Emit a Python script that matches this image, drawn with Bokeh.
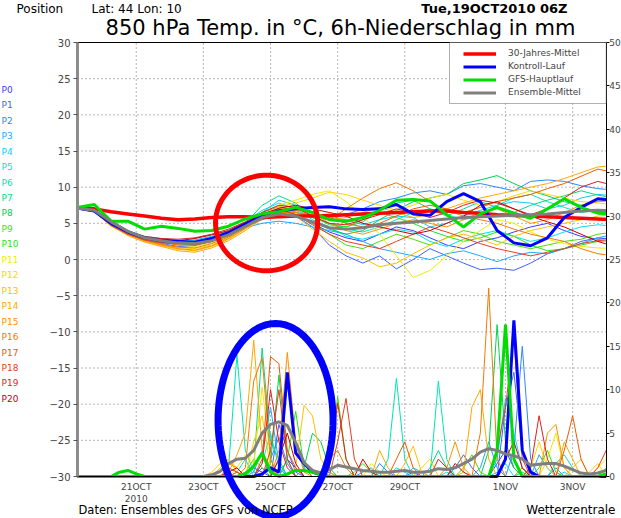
import math
from bokeh.plotting import figure
from bokeh.models import (Range1d, LinearAxis, FixedTicker, Label, Legend,
                          LegendItem, PolyAnnotation, BoxAnnotation)
from bokeh.embed import file_html
from bokeh.resources import INLINE

# ---------------- data ----------------
# forecast hours since 19OCT2010 06Z
hours_12h = list(range(0, 385, 12))   # temperature steps
hours_6h = list(range(0, 385, 6))     # precipitation steps

tick_hours = [42, 90, 138, 186, 234, 306, 354]
tick_labels = ["21OCT\n2010", "23OCT", "25OCT", "27OCT", "29OCT", "1NOV", "3NOV"]
temp_ticks = [-30, -25, -20, -15, -10, -5, 0, 5, 10, 15, 20, 25, 30]
prec_ticks = [0, 5, 10, 15, 20, 25, 30, 35, 40, 45, 50]

member_names = ["P%d" % k for k in range(21)]

# 850 hPa temperature (deg C), 12-hourly
temp_clim = [7.2,7.0,6.6,6.3,6.0,5.7,5.5,5.6,5.8,5.9,5.9,5.8,5.9,6.0,6.0,6.1,6.2,6.3,6.4,6.5,6.6,6.7,6.7,6.5,6.4,6.2,6.1,6.0,5.9,5.8,5.7,5.6,5.5]
temp_ctrl = [7.1,6.7,5.0,3.8,3.0,2.6,2.5,2.4,2.9,3.7,4.9,6.0,6.7,7.0,7.2,7.3,7.0,6.9,7.0,7.6,6.3,6.1,8.0,9.1,8.0,4.0,2.3,1.9,3.0,5.8,7.2,8.4,8.2]
temp_oper = [7.2,7.6,5.3,5.3,4.2,4.6,4.3,3.9,4.0,4.6,5.6,6.3,6.6,7.2,6.5,5.5,5.3,5.8,6.8,8.2,8.3,8.1,6.2,4.5,6.3,7.2,6.4,5.7,7.0,8.4,7.2,6.4,6.3]
temp_mean = [7.1,6.8,5.2,3.9,3.0,2.6,2.3,2.2,2.6,3.4,4.6,5.8,6.3,6.0,5.2,4.4,4.2,4.4,4.8,5.0,5.2,5.4,5.6,5.8,5.9,6.0,6.1,6.2,6.3,6.5,6.7,6.8,6.7]

temp_p0 = [7.1,6.8,5.0,3.6,2.8,2.4,2.2,2.0,2.6,3.5,4.8,6.0,6.5,6.2,5.0,3.8,3.0,2.5,3.5,4.5,4.0,3.0,2.0,1.5,2.5,3.0,3.8,4.5,5.0,4.0,3.2,2.8,3.0]
temp_p1 = [7.0,6.7,4.8,3.7,2.9,2.2,1.8,1.9,2.5,3.3,4.5,5.5,6.2,6.0,4.5,2.0,0.5,-0.5,0.5,-1.3,0.0,1.5,0.5,-0.5,-1.4,-1.2,-1.5,-0.5,0.8,1.5,2.5,3.0,2.8]
temp_p2 = [7.2,6.9,5.2,3.9,3.1,2.7,2.4,2.5,3.0,3.8,5.0,6.5,7.3,6.8,6.0,5.5,6.2,7.0,8.0,8.5,9.2,9.5,9.0,10.2,10.5,10.0,9.5,10.8,11.0,10.8,10.2,9.8,9.6]
temp_p3 = [7.1,6.8,5.1,3.8,3.0,2.8,2.6,2.7,3.2,3.9,4.4,5.0,5.3,5.0,4.5,4.0,3.5,2.5,1.5,1.0,0.5,0.0,0.8,1.2,0.5,-0.3,0.5,1.0,0.8,1.5,2.2,3.0,3.5]
temp_p4 = [7.0,6.6,4.7,3.5,2.6,2.3,2.1,2.3,2.8,3.5,4.8,6.5,8.2,7.5,6.5,5.8,5.5,4.8,5.5,6.0,5.8,4.5,5.0,6.0,6.8,7.5,8.0,7.8,7.0,7.5,8.5,9.0,8.8]
temp_p5 = [7.2,6.9,5.3,4.0,3.2,2.9,2.7,2.6,3.1,4.0,5.2,6.8,7.8,7.0,5.5,4.5,3.2,2.8,3.5,4.2,3.8,2.5,1.8,2.8,3.5,4.0,3.2,2.5,3.0,3.8,4.5,4.8,4.6]
temp_p6 = [7.1,6.7,4.9,3.6,2.8,2.5,2.3,2.4,2.9,3.7,4.9,6.3,7.0,6.6,5.8,5.0,4.2,3.8,4.5,5.5,6.5,7.0,6.2,5.5,6.0,7.5,8.5,9.0,8.0,7.2,6.5,6.8,7.0]
temp_p7 = [7.0,6.8,5.0,3.8,3.0,2.6,2.2,2.1,2.7,3.6,5.0,7.5,8.8,7.8,6.0,4.8,4.5,5.2,6.8,7.8,8.2,7.0,6.0,7.0,8.0,7.2,6.5,7.5,8.2,8.8,9.5,8.9,8.5]
temp_p8 = [7.2,6.9,5.4,4.0,3.1,2.7,2.5,2.4,2.8,3.6,4.7,5.8,6.4,6.0,5.2,4.2,3.5,4.0,5.5,6.8,8.0,8.5,9.0,10.5,11.0,11.6,10.5,9.5,8.8,8.0,7.5,8.0,8.2]
temp_p9 = [7.1,6.8,5.1,3.8,3.0,2.6,2.4,2.5,3.0,3.9,5.1,6.2,6.8,6.3,5.0,3.5,2.0,1.5,2.5,3.5,2.8,2.0,3.0,4.0,3.5,2.5,2.0,1.5,2.0,2.5,2.8,3.5,3.8]
temp_p10 = [7.0,6.7,4.8,3.6,2.9,2.5,2.2,2.2,2.7,3.5,4.6,5.9,6.8,6.5,5.8,5.0,4.5,5.5,6.5,5.8,5.0,4.0,3.2,2.5,3.0,3.8,3.2,2.0,1.2,1.5,2.0,2.5,2.6]
temp_p11 = [7.2,6.9,5.2,3.9,3.1,2.5,2.0,1.8,2.3,3.2,4.7,6.5,7.5,8.2,9.0,9.5,8.0,6.0,3.5,0.5,-2.5,-1.5,0.5,2.5,4.0,5.5,5.0,3.8,2.8,2.2,1.8,1.6,1.5]
temp_p12 = [7.1,6.8,5.0,3.7,2.8,2.1,1.6,1.5,2.0,3.0,4.5,6.2,7.3,7.8,8.5,9.3,9.0,8.2,7.5,6.8,7.5,8.5,9.0,8.2,7.5,8.0,8.8,9.5,9.0,8.5,8.0,7.8,7.6]
temp_p13 = [7.0,6.6,4.6,3.4,2.5,1.9,1.4,1.2,1.8,2.8,4.2,5.8,6.7,6.0,4.2,2.5,1.0,0.2,-1.0,-0.5,0.8,2.0,3.0,3.5,2.8,2.0,3.2,4.0,4.5,5.0,5.5,6.0,6.2]
temp_p14 = [7.1,6.7,4.7,3.3,2.4,1.8,1.2,1.0,1.6,2.6,4.0,5.6,6.5,6.8,6.2,5.5,5.8,6.5,7.2,6.5,5.8,6.2,7.0,7.8,8.5,9.0,9.5,10.0,10.5,11.2,12.0,12.8,13.0]
temp_p15 = [7.2,6.8,4.9,3.5,2.6,2.0,1.5,1.3,1.9,2.9,4.3,6.0,7.0,7.2,6.5,5.0,4.0,3.5,4.2,5.0,5.5,5.0,4.5,5.5,6.5,7.0,6.0,5.0,5.5,6.5,7.5,8.0,8.5]
temp_p16 = [7.0,6.7,4.8,3.5,2.7,2.1,1.7,1.6,2.2,3.1,4.4,5.7,6.5,6.5,6.0,5.5,7.0,8.5,9.8,10.6,9.5,8.0,6.8,6.0,5.5,5.0,4.2,3.5,3.0,2.5,1.5,0.8,0.5]
temp_p17 = [7.1,6.8,5.0,3.7,2.9,2.4,2.0,2.0,2.5,3.4,4.7,6.0,6.8,6.9,6.5,5.8,5.0,4.5,5.0,6.0,7.0,7.5,7.0,6.5,7.2,8.0,8.5,9.0,9.8,10.5,11.5,12.5,12.0]
temp_p18 = [7.0,6.6,4.7,3.5,2.7,2.3,2.2,2.4,3.0,3.8,5.0,6.3,7.0,6.2,4.8,3.5,2.5,2.0,1.5,2.5,3.5,4.5,3.8,3.0,2.2,1.5,1.0,0.5,1.0,1.5,2.2,2.6,2.8]
temp_p19 = [7.2,6.9,5.1,3.9,3.2,2.9,2.8,3.0,3.5,4.2,5.2,6.5,7.5,7.2,6.0,5.0,4.8,5.5,6.2,7.0,6.5,5.8,6.5,7.5,8.2,7.8,7.0,6.2,7.0,8.5,10.0,10.8,10.2]
temp_p20 = [7.1,6.8,5.0,3.8,3.1,2.8,2.6,2.9,3.4,4.0,5.1,6.2,7.1,7.5,7.0,6.5,6.0,5.0,4.5,4.0,3.5,4.0,5.0,6.0,7.5,8.0,7.0,6.0,5.2,4.5,3.5,2.5,1.8]

# 6h precipitation (mm), 6-hourly
prec_oper = [0,0,0,0,0, 0.5,0.7,0.3,0,0, 0,0,0,0,0, 0,0,0,0,0, 0.3,1.2,2.7,0.5,0, 0.3,0.7,0.7,0.5,0.2, 0,0,0,0,0, 0,0,0,0,0, 0,0,0,0,0, 0,0,0,0,0, 3,17.5,2,0,0, 0,0,0,0,0, 0,0,0,0.3,0]
prec_ctrl = [0,0,0,0,0, 0,0,0,0,0, 0,0,0,0,0, 0,0,0,0,0, 0,0,0.3,1,0.5, 12,2.7,1.5,0.5,0.2, 0,0,0,0,0, 0,0,0,0,0, 0,0,0,0,0, 0,0,0,0,0, 0,2,18,3,0.5, 0,0,0,0,0, 0,0,0,0,0]
prec_mean = [0,0,0,0,0, 0,0,0,0,0, 0,0,0,0,0, 0,0.2,0.6,1.5,2.0, 2.1,3.0,5.0,6.0,6.3, 5.9,3.9,1.6,0.7,0.4, 0.8,1.3,1.1,0.9,0.7, 0.6,0.5,0.5,0.6,0.7, 0.5,0.5,0.6,0.9,0.8, 1.0,1.5,2.0,2.8,3.2, 3.0,2.6,2.4,2.0,1.3, 1.4,1.5,1.5,1.2,0.8, 0.4,0.3,0.4,0.7,1.0]

prec_p0 = [0,0,0,0,0, 0,0,0,0,0, 0,0,0,0,0, 0,0,0,0,0, 0.5,1,0.5,0,0, 2,1,0,0,0, 0,0,0,0,0, 0,0,0,0,0, 0.5,0,0,0,0, 0,0,0,0,0, 1.5,3,1,0,0, 0,0,0,0,0, 0,0,0,0,0]
prec_p1 = [0,0,0,0,0, 0,0,0,0,0, 0,0,0,0,0, 0,0,0,0,0, 0,0,1,0,6, 3,0.5,0,0,0, 0,0,0,0,0, 0,0,0,0,0, 0,0,0,0,0, 1,2.5,1,0,0, 0,8,12,3,0.5, 0,0,0,0,0, 0,0,0,0,0]
prec_p2 = [0,0,0,0,0, 0,0,0,0,0, 0,0,0,0,0, 0,0,0,0,0, 0,0,0,2,4.5, 1.5,0,0,0,0, 0.5,0,0,0,0, 0,1.5,0.5,0,0, 0,0,0,0,0, 0,0,0,0,0, 0,0,3,15,2, 0,0,1,0,0, 0,0,0,0,0]
prec_p3 = [0,0,0,0,0, 0,0,0,0,0, 0,0,0,0,0, 0,0,0,0,0, 0,0.5,3,8,1.5, 0,0,0,0,0, 0,0,0,0,0.5, 1,0,0,0,0, 0,0,0,0,0, 0,0,0,1,4, 1,0,0,0,0, 2.5,1,0,0,0, 0,0,0,0,0]
prec_p4 = [0,0,0,0,0, 0,0,0,0,0, 0,0,0,0,0, 0,0,0,0,0, 0,0,0,0,2, 10.8,3,1,0,0, 0,0,0,0,0, 0,0,0,0,0, 1,0.5,0,0,0, 0,0,0,0,0, 2,9,5,1,0, 0,0,0,0.5,0, 0,0,0,0,0]
prec_p5 = [0,0,0,0,0, 0,0,0,0,0, 0,0,0,0,0, 0,0,0,0,0.5, 2,0,1.5,5,1, 0,0,0,0,0, 0,0,0,0,0, 0,0,0,1,0.5, 0,0,0,0,0.5, 0,0,0,0,0, 0.5,1.5,0,0,0, 0,0,0,0,0, 0,0,0,1,2]
prec_p6 = [0,0,0,0,0, 0,0,0,0,0, 0,0,0,0,0, 0,0,0,1,14, 3,0.5,0,0,0, 0,0,0,0,0, 0,0,0,0,0, 0,0,2,11.3,2, 0,0,0,11,2, 0,0,0,0,0, 0,0,0,0,0, 0,0,1.5,2.5,1, 0,0,0,0,0]
prec_p7 = [0,0,0,0,0, 0,0,0,0,0, 0,0,0,0,0, 0,0,0,0,0, 0,1,14.8,4,2, 0,0,0,0,0, 0,0,0,0,0, 0,0,0,0,0, 0,0,1,3,1, 0,0,0,0,0, 0,0,0,0.5,0, 0,0,0,0,0, 0,0,0,0,0]
prec_p8 = [0,0,0,0,0, 0,0,0,0,0, 0,0,0,0,0, 0,0,0,0,0, 0,0,0,1.5,11.7, 2,0,1,5,4, 1,0,0,0,0, 0,0,0,0,0, 0,0,0,0,0, 0,0,0,0,3, 17.5,4,1,0,0, 0,0,0,0,0, 0,0,0,0,0]
prec_p9 = [0,0,0,0,0, 0,0,0,0,0, 0,0,0,0,0, 0,0,0,0,0, 0.5,2,1,0,0, 0,0,0,0,0, 1,9.2,2,0,0, 0,0,0,0,0, 0,0,0,0,0, 0,1,2.5,0.5,0, 0,0,0,0,0, 0,0,0,0,0, 0,0,0,0,0]
prec_p10 = [0,0,0,0,0, 0,0,0,0,0, 0,0,0,0,0, 0,0,0,0,0, 0,0,0,0,0, 2,7.5,1,0,0, 0,0,0,0.5,1.5, 0.5,0,0,0,0, 0,0,0,0,0, 0,0,0,0,0, 0,0,0,0,0, 1,3,0.5,0,0, 0,0,0,0,0]
prec_p11 = [0,0,0,0,0, 0,0,0,0,0, 0,0,0,0,0, 0,0,0,0,1, 2.5,1.5,10.3,2,0, 0,0,0,0,0, 0,0,0,0,0, 1.5,0.5,0,0,0, 0,0,0,0,0, 0,0,0,0,0, 0,0,0,0,0, 0,2,5,1,0, 0,0,1,2,17]
prec_p12 = [0,0,0,0,0, 0,0,0,0,0, 0,0,0,0,0, 0,0.5,1.5,2,1, 0,4,7,1,0, 0,0,0,0,0, 0,0,0,0,0, 0,0,0,0,0, 0,1,2,0,0, 0,0,0,0,0, 0,0,0,0,1, 4,1,0,0,0, 0,0.5,1.5,0,0]
prec_p13 = [0,0,0,0,0, 0,0,0,0,0, 0,0,0,0,0, 0,0,1,2,0.5, 0,0,0,0,0, 0,1,8.2,7,2, 0.5,0,0,0,0, 0,0,0,0,1.5, 3.5,0.5,0,0,0, 0,0,0,0,0, 0,0,0,0,0, 0,0,0,0,1, 2,0,0,0,0]
prec_p14 = [0,0,0,0,0, 0,0,0,0,0, 0,0,0,0,0, 0,0,0,0.5,2.5, 5,15.7,3,1,0, 0,0,0,0,0, 0,0,0,0,0, 0,3,1,0,0, 0,0,0,0,0, 0,0.5,8,10,2, 0,0,0,0,0, 0,0,0,4,2, 0,0,0,0,0]
prec_p15 = [0,0,0,0,0, 0,0,0,0,0, 0,0,0,0,0, 0,0,0.5,1.5,1, 0,0,0,0,3, 14.3,4,0.5,0,0, 0,0,0,0,0, 0,0,0,0,0, 0,0,0,0,1, 4,1,0,0,0, 0,0,0,0,0, 0,5,6,1,0, 0,0,0,0,0]
prec_p16 = [0,0,0,0,0, 0,0,0,0,0, 0,0,0,0,0, 0,0,0,0,0, 1,11,13.7,2,0, 0,0,0,0,0, 2,3,1,0,0, 0,0,0,0,0, 0,0,0,0,0, 0,0,0,5,21.7, 2,0,0,1,0, 0,0,0,0,0, 0,0,0,0,0]
prec_p17 = [0,0,0,0,0, 0,0,0,0,0, 0,0,0,0,0, 0,0,0,0,0.5, 0,0,2,13.8,13, 3,1,0,0,0, 0,0,0,0,0, 0,0,0,2,4, 1,0,0,0,0, 0,0,0,0,0, 0,0,0,0,0, 0,0,0,3,7, 2,0,0,0,0]
prec_p18 = [0,0,0,0,0, 0,0,0,0,0, 0,0,0,0,0, 0,0,0,1,0.5, 0,0,0,3,10, 2,0,0,0,0, 0,4,9,2,0, 0,0,0,0,0, 0,0,0,0,0, 0,0,0,0,0, 3,8,16,2,0, 0,0,0,0,0, 0,0,1,3,0]
prec_p19 = [0,0,0,0,0, 0,0,0,0,0, 0,0,0,0,0, 0,0,0,0,0, 0,0,1.5,10,4, 1,0,0,0,0, 1,8.5,2,0,0, 0,0,0,0,0, 0,0,0,2,1, 0,0,0,0,0, 0,0,0,0,1, 7,2,0,0,0, 0,0,0,0,0]
prec_p20 = [0,0,0,0,0, 0,0,0,0,0, 0,0,0,0,0, 0,0,0,0.5,1, 0,0,0,0,2, 5,1.5,0,0,0, 0,0,0,0,2, 0.5,0,0,0,0, 0,0,0,0,0, 1.5,0.5,0,0,0, 0,2,4,1,0, 0,0,0,0,0, 0,0,0,0,0]

# hand-drawn highlight rings: centre hour, centre value (deg C), half-width (h), half-height (deg C)
ring_red = [135.2, 5.05, 36.5, 6.6]
ring_blue = [141.6, -22.2, 41.1, 13.35]

members_temp = [temp_p0, temp_p1, temp_p2, temp_p3, temp_p4, temp_p5, temp_p6, temp_p7,
                temp_p8, temp_p9, temp_p10, temp_p11, temp_p12, temp_p13, temp_p14,
                temp_p15, temp_p16, temp_p17, temp_p18, temp_p19, temp_p20]
members_prec = [prec_p0, prec_p1, prec_p2, prec_p3, prec_p4, prec_p5, prec_p6, prec_p7,
                prec_p8, prec_p9, prec_p10, prec_p11, prec_p12, prec_p13, prec_p14,
                prec_p15, prec_p16, prec_p17, prec_p18, prec_p19, prec_p20]
for s in members_temp + [temp_clim, temp_ctrl, temp_oper, temp_mean]:
    assert len(s) == len(hours_12h), len(s)
for s in members_prec + [prec_oper, prec_ctrl, prec_mean]:
    assert len(s) == len(hours_6h), len(s)

# ---------------- styling / layout ----------------
member_colors = ["#3c3cff", "#3c64ff", "#2e86ff", "#1ea8ff", "#14c8ff", "#00e1f0",
                 "#00e6b4", "#00dc82", "#00d250", "#4ade00", "#1ee61e", "#f0ec00",
                 "#ffd500", "#ffc000", "#ffa800", "#ff9000", "#f57800", "#f05a00",
                 "#e83c1e", "#e01e1e", "#c80000"]
FONT = "DejaVu Sans"
W, H = 621, 518
# plot rectangle inside the canvas (pixels)
PL, PR, PT, PB = 77.0, 605.7, 42.0, 476.0
HX0, HX1 = 0, 378          # hours shown
TY0, TY1 = -30, 30         # temperature axis
RY0, RY1 = 0, 50           # precipitation axis

kx = (PR - PL) / (HX1 - HX0)
ky = (PB - PT) / (TY1 - TY0)
kr = (PB - PT) / (RY1 - RY0)
x_range = Range1d(HX0 - PL / kx, HX1 + (W - PR) / kx)
y_range = Range1d(TY0 - (H - PB) / ky, TY1 + PT / ky)
r_range = Range1d(RY0 - (H - PB) / kr, RY1 + PT / kr)

p = figure(width=W, height=H, x_range=x_range, y_range=y_range,
           output_backend="svg", toolbar_location=None, min_border=0,
           background_fill_color="white", border_fill_color="white",
           outline_line_color=None)
p.extra_y_ranges = {"precip": r_range}
p.xgrid.grid_line_color = None
p.ygrid.grid_line_color = None

def at(px, py):
    return (x_range.start + px / kx, y_range.end - py / ky)

# axes (fixed on the plot rectangle)
xa = p.xaxis[0]
xa.fixed_location = TY0
xa.bounds = (HX0, HX1)
xa.ticker = FixedTicker(ticks=tick_hours)
xa.major_label_overrides = {h: lab for h, lab in zip(tick_hours, tick_labels)}
xa.major_tick_out = 0
xa.major_tick_in = 0
xa.minor_tick_line_color = None
xa.axis_line_color = "black"
xa.major_label_text_font = FONT
xa.major_label_text_font_size = "9px"
xa.major_label_standoff = 5

ya = p.yaxis[0]
ya.fixed_location = HX0
ya.bounds = (TY0, TY1)
ya.ticker = FixedTicker(ticks=temp_ticks)
ya.axis_line_color = "#8c8c8c"
ya.axis_line_width = 3
ya.major_tick_out = 4
ya.major_tick_in = 0
ya.major_tick_line_color = "#555555"
ya.minor_tick_line_color = None
ya.major_label_text_font = FONT
ya.major_label_text_font_size = "10px"
ya.major_label_standoff = 3

ra = LinearAxis(y_range_name="precip", fixed_location=HX1, bounds=(RY0, RY1),
                ticker=FixedTicker(ticks=prec_ticks))
ra.axis_line_color = "black"
ra.major_tick_out = 3
ra.major_tick_in = 0
ra.minor_tick_line_color = None
ra.major_label_text_font = FONT
ra.major_label_text_font_size = "9px"
ra.major_label_standoff = 0
p.add_layout(ra, "right")

# dotted grid and top frame line, on the tick positions
grid_t = temp_ticks[1:-1]
p.segment(x0=tick_hours, y0=[TY0] * len(tick_hours), x1=tick_hours, y1=[TY1] * len(tick_hours),
          line_color="#707070", line_dash="1 3", line_width=1)
p.segment(x0=[HX0] * len(grid_t), y0=grid_t, x1=[HX1] * len(grid_t), y1=grid_t,
          line_color="#707070", line_dash="1 3", line_width=1)
p.segment(x0=[HX0], y0=[TY1], x1=[HX1], y1=[TY1], line_color="black", line_width=1)

# ensemble members
for t, pr, c in zip(members_temp, members_prec, member_colors):
    p.line(hours_12h, t, line_color=c, line_width=1)
    p.line(hours_6h, pr, line_color=c, line_width=1, y_range_name="precip")

# thick lines
r_clim = p.line(hours_12h, temp_clim, line_color="#ff0000", line_width=3.5)
r_ctrl = p.line(hours_12h, temp_ctrl, line_color="#0000ff", line_width=3)
p.line(hours_6h, prec_ctrl, line_color="#0000ff", line_width=3, y_range_name="precip")
r_oper = p.line(hours_12h, temp_oper, line_color="#00dd00", line_width=3)
p.line(hours_6h, prec_oper, line_color="#00dd00", line_width=3, y_range_name="precip")
r_mean = p.line(hours_12h, temp_mean, line_color="#7f7f7f", line_width=3)
p.line(hours_6h, prec_mean, line_color="#7f7f7f", line_width=3, y_range_name="precip")

# keep the curves inside the plot rectangle on the right
p.quad(left=[HX1], right=[x_range.end], bottom=[y_range.start], top=[y_range.end],
       fill_color="white", line_color=None)

# legend: framed box, items inside
BOX_L, BOX_B = 449.0, 103.0
p.add_layout(BoxAnnotation(left=at(BOX_L, 0)[0], right=HX1, top=TY1,
                           bottom=at(0, BOX_B)[1], fill_color="white", fill_alpha=1.0,
                           line_color="black", line_width=1))
LEG_PAD = 4
legend = Legend(items=[LegendItem(label="30-Jahres-Mittel", renderers=[r_clim]),
                       LegendItem(label="Kontroll-Lauf", renderers=[r_ctrl]),
                       LegendItem(label="GFS-Hauptlauf", renderers=[r_oper]),
                       LegendItem(label="Ensemble-Mittel", renderers=[r_mean])],
                location=(467 - LEG_PAD, H - BOX_B + 4.5))
legend.margin = 0
legend.padding = LEG_PAD
legend.spacing = 0
legend.glyph_width = 33
legend.glyph_height = 13
legend.label_height = 13
legend.label_standoff = 12
legend.label_text_font = FONT
legend.label_text_font_size = "9px"
legend.border_line_color = None
legend.background_fill_alpha = 0.0
p.add_layout(legend)

# hand-drawn highlight rings
def ring(spec, color, width):
    cx, cy, rx, ry = spec
    n = 120
    xs = [cx + rx * math.cos(2 * math.pi * k / n) for k in range(n)]
    ys = [cy + ry * math.sin(2 * math.pi * k / n) for k in range(n)]
    p.add_layout(PolyAnnotation(xs=xs, ys=ys, fill_alpha=0, line_color=color,
                                line_width=width, line_alpha=1))
ring(ring_red, "#ff0000", 5)
ring(ring_blue, "#0000ff", 7)

# texts (py = wanted baseline in pixels; small correction for the svg baseline)
def text(px, py, s, size, color="black", style="normal", align="left"):
    x, y = at(px, py - 0.35 * size)
    p.add_layout(Label(x=x, y=y, text=s, text_font=FONT, text_font_size="%gpx" % size,
                       text_color=color, text_font_style=style, text_align=align,
                       text_baseline="alphabetic"))

text(16, 13, "Position", 12)
text(91, 13, "Lat: 44 Lon: 10", 12)
text(567, 13, "Tue,19OCT2010 06Z", 13, style="bold", align="right")
text(340, 35, "850 hPa Temp. in \u00b0C, 6h-Niederschlag in mm", 21, align="center")
for k, name in enumerate(member_names):
    text(1, 92.5 + 15.45 * k, name, 9, color=member_colors[k])
text(78, 514, "Daten: Ensembles des GFS von NCEP", 11.5)
text(615, 514, "Wetterzentrale", 12, align="right")

open("out.html", "w").write(file_html(p, INLINE))
